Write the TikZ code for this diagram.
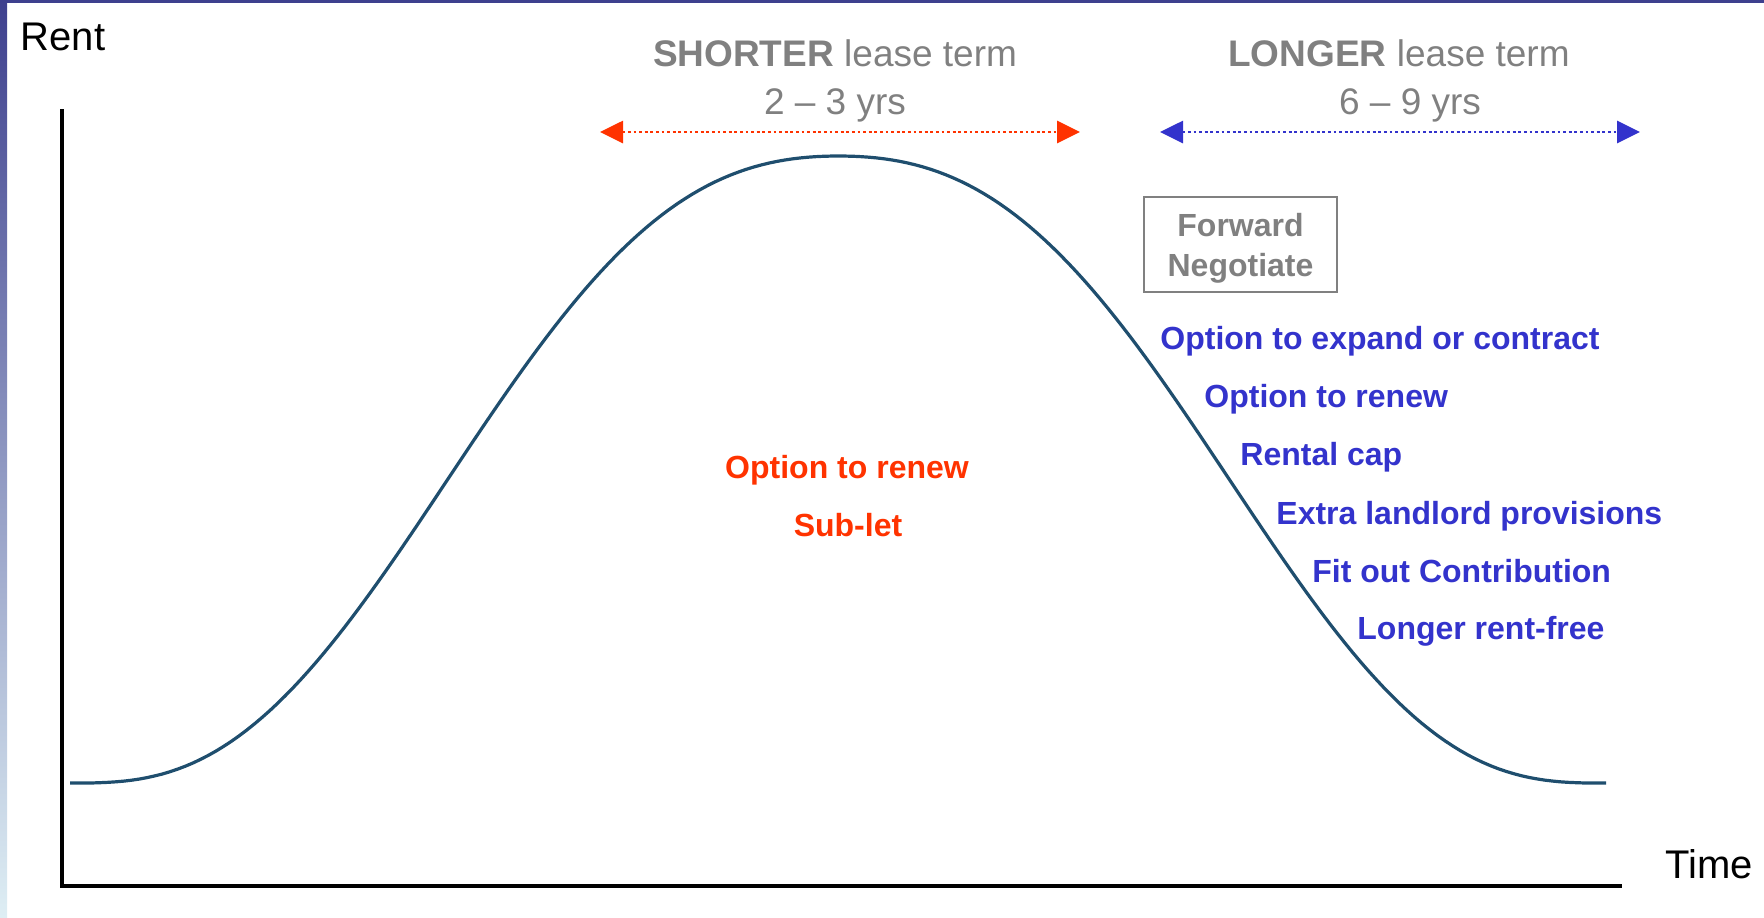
\documentclass[tikz,border=0pt]{standalone}
\usepackage{fontspec}
\setmainfont{Liberation Sans}     % largeurs d'Arial
\usepackage{tikz}
\usetikzlibrary{arrows.meta}      % pointes des fleches
\definecolor{bleu}{RGB}{51,51,204}
\definecolor{rouge}{RGB}{255,51,0}
\definecolor{gris}{RGB}{128,128,128}
\definecolor{courbe}{RGB}{31,78,110}
\definecolor{cadre}{RGB}{62,64,142}
\definecolor{cadreclair}{RGB}{222,238,244}
\tikzset{
  axe/.style={line width=2.2pt},
  axlabel/.style={inner sep=0pt,font=\fontsize{20}{24}\selectfont},
  titre/.style={anchor=base,text=gris,inner sep=0pt,font=\fontsize{18.5}{22}\selectfont},
  opt/.style={anchor=base west,text=bleu,inner sep=0pt,font=\fontsize{16}{19}\selectfont\bfseries},
  optcourt/.style={anchor=base,text=rouge,inner sep=0pt,font=\fontsize{16}{19}\selectfont\bfseries},
  fleche/.style={line width=1.4pt,dash pattern=on 1.4pt off 1.4pt,
    {Triangle[length=11.5pt,width=11pt]}-{Triangle[length=11.5pt,width=11pt]}},
  boite/.style={draw=gris,line width=1pt,text=gris,align=center,text depth=0pt,
    minimum width=96.5pt,minimum height=47.5pt,font=\fontsize{16}{20}\selectfont\bfseries}
}

\begin{document}
\begin{tikzpicture}[x=0.5pt,y=-0.5pt,
  declare function={lisse(\u)=\u*\u*\u*(10-15*\u+6*\u*\u);
    douce(\u)=\u*\u*(3-2*\u);
    profil(\u)=lisse(\u)+0.35*\u*\u*(douce(\u)-lisse(\u));}]
\useasboundingbox(0,0)rectangle(1764,917);
\shade[top color=cadre,bottom color=cadreclair](0,0)rectangle(7,917);
\fill[cadre](0,0)rectangle(1764,3);
\coordinate(ytop)at(62,109);
\coordinate(xend)at(1622,886);
\draw[axe](ytop)|-(xend);
\node[axlabel,anchor=base](rent)at(63,50){Rent};
\node[axlabel,anchor=base west](time)at(1665,878){Time};
\draw[courbe,line width=1.6pt]plot[variable=\t,domain=-1:1,samples=201]
  ({838.5+768.5*\t},{783-627*profil(1-abs(\t))});
\node[titre](court)at(835,66){\textbf{SHORTER} lease term};
\node[titre](courtans)at(835,114){2 – 3 yrs};
\node[titre](long)at(1399,66){\textbf{LONGER} lease term};
\node[titre](longans)at(1410,114){6 – 9 yrs};
\coordinate(c1)at(600,132);
\coordinate(c2)at(1080,132);
\coordinate(l1)at(1160,132);
\coordinate(l2)at(1640,132);
\draw[fleche,rouge](c1)--(c2);
\draw[fleche,bleu](l1)--(l2);
\node[boite](fwd)at(1240.5,244.5){Forward\\Negotiate};
\node[opt](o1)at(1160,349){Option to expand or contract};
\node[opt](o2)at(1204,407){Option to renew};
\node[opt](o3)at(1240,465){Rental cap};
\node[opt](o4)at(1276,524){Extra landlord provisions};
\node[opt](o5)at(1312,582){Fit out Contribution};
\node[opt](o6)at(1357,639){Longer rent-free};
\node[optcourt](r1)at(847,478){Option to renew};
\node[optcourt](r2)at(848,536){Sub-let};
\end{tikzpicture}
\end{document}
